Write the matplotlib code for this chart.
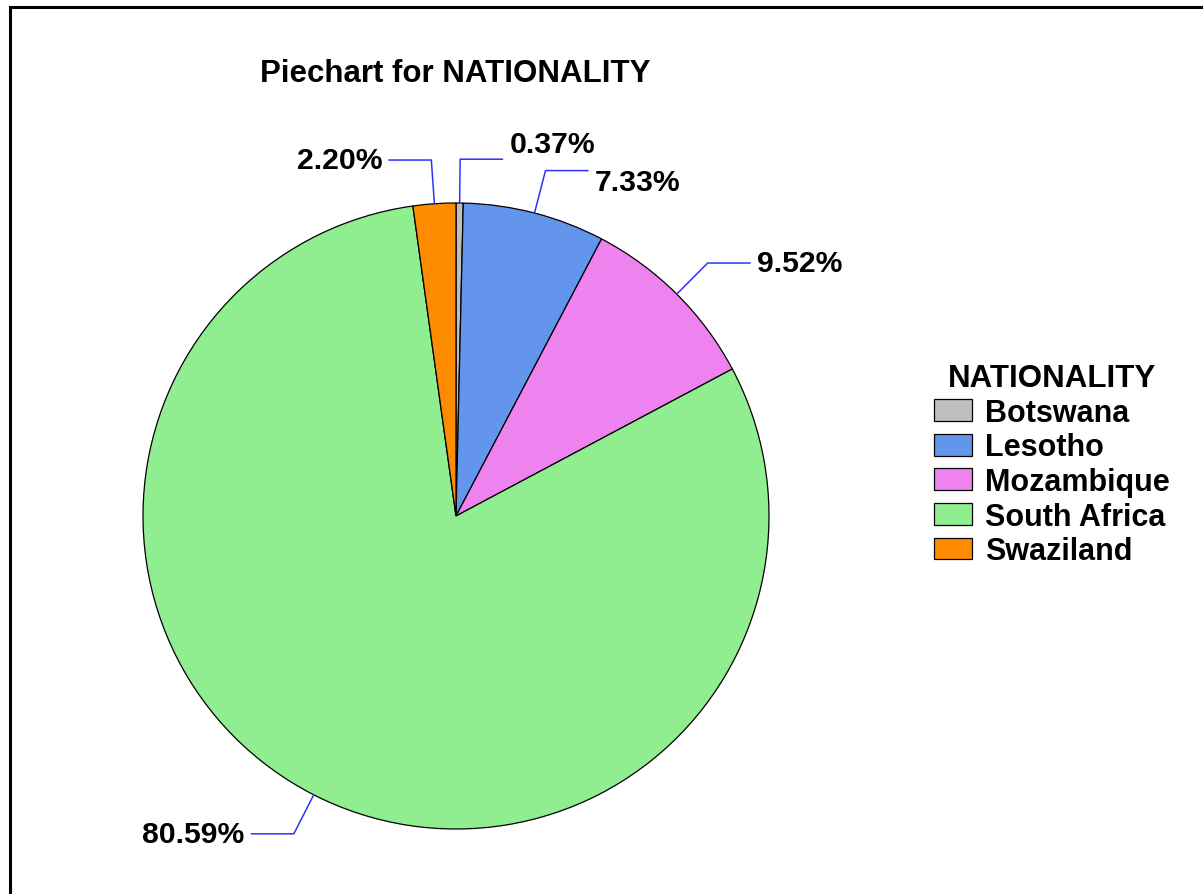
import numpy as np
import matplotlib.pyplot as plt
from matplotlib.patches import Rectangle

plt.rcParams['font.family'] = ['Liberation Sans', 'DejaVu Sans']
plt.rcParams['font.weight'] = 'bold'

countries = ["Botswana", "Lesotho", "Mozambique", "South Africa", "Swaziland"]
percents = [0.37, 7.33, 9.52, 80.59, 2.20]
colors = ["#BEBEBE", "#6495ED", "#EE82EE", "#90EE90", "#FF8C00"]
# small vertical nudges so neighbouring labels don't collide
label_nudge = [0.048, -0.035, 0.0, 0.0, 0.0]

W, H = 1203, 895
fig = plt.figure(figsize=(W / 100, H / 100), dpi=100)

# outer frame (only left and top edges fall inside the image)
fig.patches.append(Rectangle((10 / W, -0.1), 1.2, (H - 8) / H + 0.1,
                             transform=fig.transFigure, fill=False,
                             edgecolor="black", linewidth=2.2))

cx, cy, r = 456, 517, 313
ax = fig.add_axes([(cx - r) / W, (H - cy - r) / H, 2 * r / W, 2 * r / H])
ax.set_aspect("equal")

wedges, _ = ax.pie(percents, colors=colors, startangle=90, counterclock=False,
                   radius=1.0, wedgeprops=dict(edgecolor="black", linewidth=0.9))
ax.set_xlim(-1, 1)
ax.set_ylim(-1, 1)
ax.axis("off")

# leader lines: radial out to an elbow, then horizontal to the label
for w, p, dy in zip(wedges, percents, label_nudge):
    ang = np.deg2rad((w.theta1 + w.theta2) / 2)
    x0, y0 = np.cos(ang), np.sin(ang)
    x1, y1 = 1.14 * x0, 1.14 * y0
    side = 1 if x0 >= 0 else -1
    x2 = x1 + side * 0.135
    ax.plot([x0, x1, x2], [y0, y1, y1], color="#3030FF", lw=1.1, clip_on=False)
    ax.text(x2 + side * 0.022, y1 + dy, f"{p:.2f}%", fontsize=21.7, fontweight="bold",
            ha="left" if side > 0 else "right", va="center")

fig.text(455 / W, 1 - 74 / H, "Piechart for NATIONALITY", fontsize=22.5,
         fontweight="bold", ha="center", va="center")

leg = fig.legend(wedges, countries, loc="upper left",
                 bbox_to_anchor=(922 / W, 1 - 352 / H), frameon=False,
                 fontsize=22, title="NATIONALITY",
                 title_fontproperties=dict(size=22.5, weight="bold"),
                 handlelength=1.24, handleheight=0.72, handletextpad=0.42,
                 labelspacing=0.15, borderaxespad=0)

fig.savefig("out.png", dpi=100)
